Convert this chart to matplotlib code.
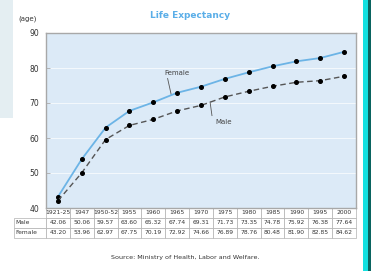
import matplotlib
matplotlib.use("Agg")
import matplotlib.pyplot as plt
from matplotlib.patches import Rectangle

periods = ["1921-25", "1947", "1950-52", "1955", "1960", "1965", "1970",
           "1975", "1980", "1985", "1990", "1995", "2000"]
male = [42.06, 50.06, 59.57, 63.60, 65.32, 67.74, 69.31,
        71.73, 73.35, 74.78, 75.92, 76.38, 77.64]
female = [43.20, 53.96, 62.97, 67.75, 70.19, 72.92, 74.66,
          76.89, 78.76, 80.48, 81.90, 82.85, 84.62]
row_labels = ["Male", "Female"]
yticks = [40, 50, 60, 70, 80, 90]

PLOT_BG = "#dceaf7"
BLUE = "#6cb4e6"
GREY = "#a8a8a8"
INK = "#333333"

plt.rcParams["font.family"] = ["DejaVu Sans"]

fig = plt.figure(figsize=(3.71, 2.71), dpi=100)
fig.patch.set_facecolor("white")

# screenshot decorations: pale strip left, teal bar right
fig.add_artist(Rectangle((0, 1 - 118 / 271), 13 / 371, 118 / 271,
                         transform=fig.transFigure, color="#e4eef2", lw=0))
fig.add_artist(Rectangle((363 / 371, 0), 4.5 / 371, 1,
                         transform=fig.transFigure, color="#12e0e0", lw=0))
fig.add_artist(Rectangle((367.5 / 371, 0), 3.5 / 371, 1,
                         transform=fig.transFigure, color="#0a6460", lw=0))

ax = fig.add_axes([46 / 371, 1 - 208 / 271, 310 / 371, 175 / 271])
ax.set_facecolor(PLOT_BG)
x = list(range(len(periods)))
ax.set_xlim(-0.5, len(periods) - 0.5)
ax.set_ylim(40, 90)

for v in yticks[1:-1]:
    ax.axhline(v, color="white", lw=0.7, alpha=0.7, zorder=1)

ax.plot(x, female, color=BLUE, lw=1.3, marker="o", ms=2.6,
        mfc="black", mec="black", zorder=3)
ax.plot(x, male, color="#555555", lw=1.0, ls=(0, (4, 2.5)), marker="o",
        ms=2.6, mfc="black", mec="black", zorder=3)

# callouts
ax.plot([4.6, 4.75], [77.0, 72.4], color="#555555", lw=0.6)
ax.text(5.0, 78.6, "Female", fontsize=5, color="#444444", ha="center", va="center")
ax.plot([6.38, 6.46], [70.3, 66.4], color="#555555", lw=0.6)
ax.text(6.95, 64.6, "Male", fontsize=5, color="#444444", ha="center", va="center")

ax.set_yticks(yticks)
ax.set_yticklabels([str(t) for t in yticks], fontsize=5.5, color=INK)
ax.tick_params(axis="y", direction="in", length=3, width=0.5, color="#999999", pad=5)
ax.set_xticks([])
for s in ax.spines.values():
    s.set_color(GREY)
    s.set_linewidth(1.0)

# data table under the axes, drawn cell by cell in axes coordinates
ncol = len(periods)
cw = 1 / ncol
rh = 10 / 175
lw_lab = 32 / 310
rows = [periods,
        [f"{v:.2f}" for v in male],
        [f"{v:.2f}" for v in female]]


def cell(x0, y0, w, h, txt, ha="center"):
    ax.add_patch(Rectangle((x0, y0), w, h, transform=ax.transAxes, clip_on=False,
                           facecolor="white", edgecolor="#b0b0b0", lw=0.5))
    tx = x0 + w / 2 if ha == "center" else x0 + 0.004
    ax.text(tx, y0 + h / 2, txt, transform=ax.transAxes, fontsize=4.3,
            color=INK, ha=ha, va="center", clip_on=False)


for r, vals in enumerate(rows):
    y0 = -(r + 1) * rh
    for c, t in enumerate(vals):
        cell(c * cw, y0, cw, rh, t)
    if r > 0:
        cell(-lw_lab, y0, lw_lab, rh, row_labels[r - 1], ha="left")

fig.text(190 / 371, 1 - 15 / 271, "Life Expectancy", fontsize=6.5, weight="bold",
         color="#5aaee8", ha="center", va="center")
fig.text(28 / 371, 1 - 19 / 271, "(age)", fontsize=5, color=INK,
         ha="center", va="center")
fig.text(185 / 371, 1 - 258 / 271, "Source: Ministry of Health, Labor and Welfare.",
         fontsize=4.6, color=INK, ha="center", va="center")

fig.savefig("out.png", dpi=100, facecolor=fig.get_facecolor())
